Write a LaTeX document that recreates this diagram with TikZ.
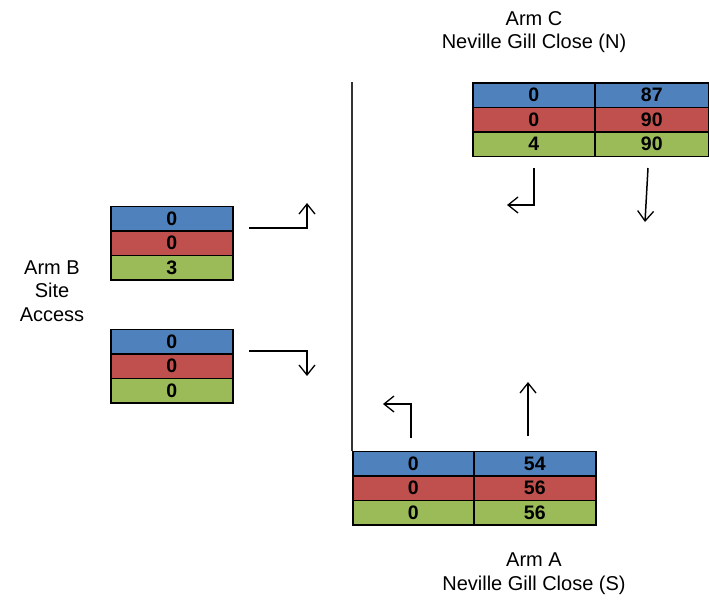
\documentclass[tikz,border=0pt]{standalone}
\usepackage{fontspec}
\setmainfont{Liberation Sans}
\usetikzlibrary{arrows.meta}
\definecolor{cblue}{HTML}{4F81BD}
\definecolor{cred}{HTML}{C0504D}
\definecolor{cgreen}{HTML}{9BBB59}
\begin{document}
\begin{tikzpicture}[x=1pt,y=-1pt,
  cell/.style={draw=black, line width=1.6pt, minimum height=24.5pt, inner sep=0pt, anchor=north west,
    font=\bfseries\fontsize{19.5}{20}\selectfont},
  bl/.style={cell, fill=cblue},
  rd/.style={cell, fill=cred},
  gr/.style={cell, fill=cgreen},
  lbl/.style={font=\fontsize{20}{23.7}\selectfont, align=center, inner sep=0pt},
  arr/.style={line width=1.5pt, -{Straight Barb[length=10pt,width=16pt,line width=1.3pt]}}
]
\useasboundingbox (0,0) rectangle (709,600);
% Arm C table
\node[bl, minimum width=122pt] (c11) at (472,82) {0};
\node[bl, minimum width=114pt] (c12) at (594,82) {87};
\node[rd, minimum width=122pt] (c21) at (472,106.5) {0};
\node[rd, minimum width=114pt] (c22) at (594,106.5) {90};
\node[gr, minimum width=122pt] (c31) at (472,131) {4};
\node[gr, minimum width=114pt] (c32) at (594,131) {90};
% Arm A table
\node[bl, minimum width=121pt] (a11) at (352,450.5) {0};
\node[bl, minimum width=122pt] (a12) at (473,450.5) {54};
\node[rd, minimum width=121pt] (a21) at (352,475) {0};
\node[rd, minimum width=122pt] (a22) at (473,475) {56};
\node[gr, minimum width=121pt] (a31) at (352,499.5) {0};
\node[gr, minimum width=122pt] (a32) at (473,499.5) {56};
% Arm B tables
\node[bl, minimum width=122pt] (b11) at (110,205.5) {0};
\node[rd, minimum width=122pt] (b21) at (110,230) {0};
\node[gr, minimum width=122pt] (b31) at (110,254.5) {3};
\node[bl, minimum width=122pt] (b12) at (110,328.5) {0};
\node[rd, minimum width=122pt] (b22) at (110,353) {0};
\node[gr, minimum width=122pt] (b32) at (110,377.5) {0};
% labels
\node[lbl] (armc) at (534,32) {Arm C\\Neville Gill Close (N)};
\node[lbl] (arma) at (534,574) {Arm A\\Neville Gill Close (S)};
\node[lbl] (armb) at (52,291) {Arm B\\Site\\Access};
% kerb line
\coordinate (k1) at (352,82);
\draw[line width=1.5pt, black!80] (k1) -- (a11.north west);
% movement arrows
\coordinate (bu0) at (249,228); \coordinate (bu1) at (307,203);
\coordinate (bd0) at (249,351); \coordinate (bd1) at (307,376);
\coordinate (cl0) at (534,168); \coordinate (cl1) at (507,205);
\coordinate (cs0) at (648,168); \coordinate (cs1) at (645,222);
\coordinate (al0) at (411,438); \coordinate (al1) at (383,404);
\coordinate (as0) at (528,436); \coordinate (as1) at (528,382);
\draw[arr] (bu0) -| (bu1);
\draw[arr] (bd0) -| (bd1);
\draw[arr] (cl0) |- (cl1);
\draw[arr] (cs0) -- (cs1);
\draw[arr] (al0) |- (al1);
\draw[arr] (as0) -- (as1);
\end{tikzpicture}
\end{document}
